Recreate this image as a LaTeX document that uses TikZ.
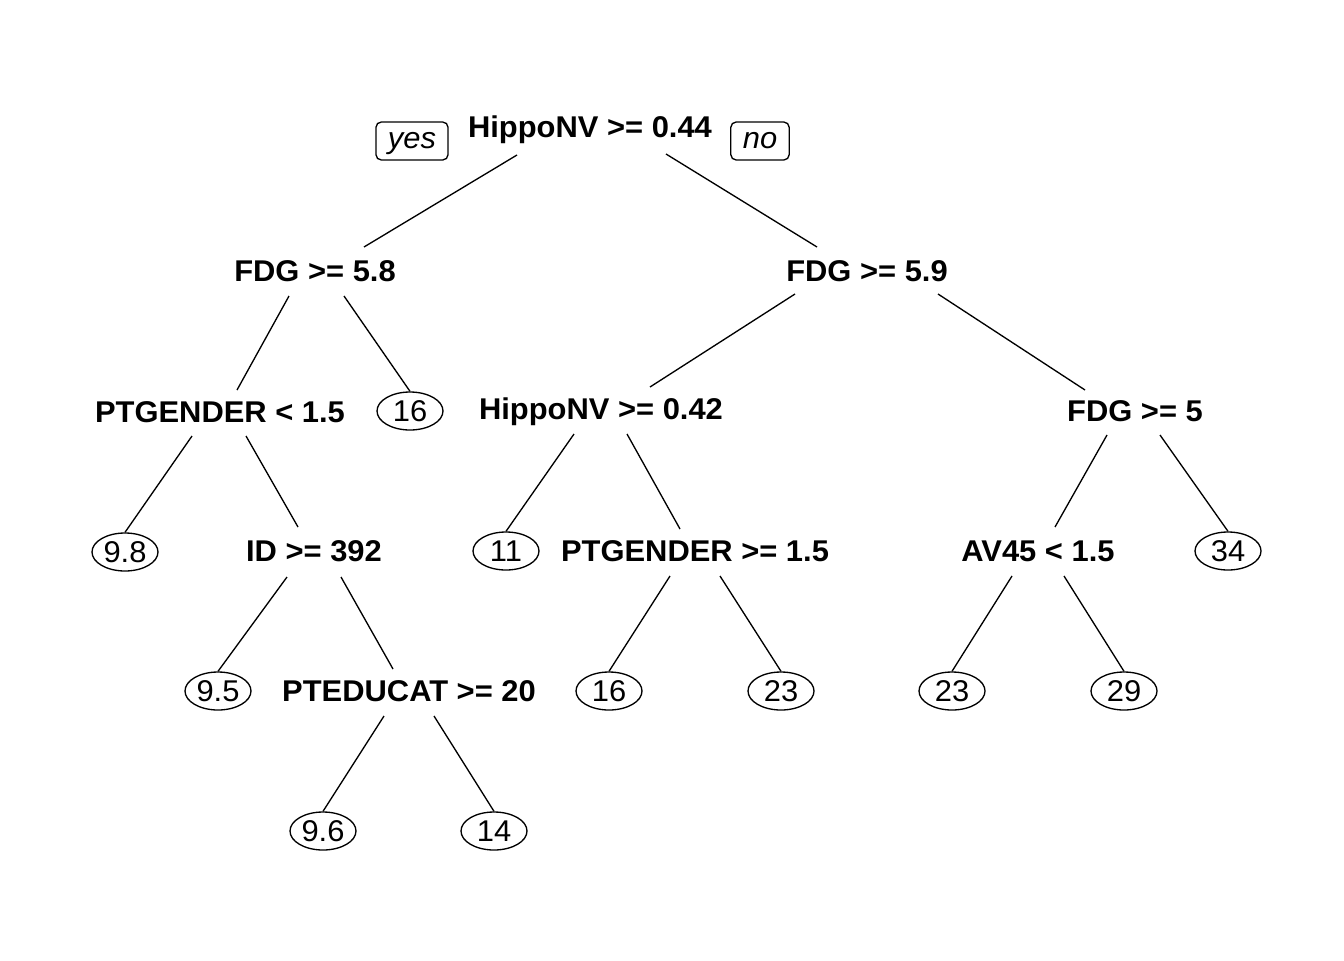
\documentclass[tikz,border=0pt]{standalone}
\usepackage{fontspec}
\setmainfont[FakeStretch=1.03]{Liberation Sans}
\usetikzlibrary{shapes.geometric,calc}
\begin{document}
\begin{tikzpicture}[x=0.75pt,y=-0.75pt,
  every node/.style={font=\fontsize{22.5}{27}\selectfont},
  split/.style={font=\fontsize{22.5}{27}\selectfont\bfseries, inner sep=0pt, text height=15.5pt, text depth=0pt},
  leaf/.style={draw, line width=1pt, ellipse, inner sep=0pt, minimum width=49.5pt, minimum height=28.5pt, text height=15.5pt, text depth=0pt},
  tag/.style={draw, line width=1pt, rounded corners=4pt, font=\fontsize{22.5}{27}\selectfont\itshape, inner xsep=9pt, inner ysep=0pt, minimum height=28.5pt, text height=11pt, text depth=0pt},
  edge/.style={line width=1pt}]
\useasboundingbox (0,0) rectangle (1344,960);
% split nodes
\node[split] (root) at (590,127) {HippoNV >= 0.44};
\node[tag] (yes) at (412,141) {yes};
\node[tag] (no) at (760,141) {no};
\node[split] (fdga) at (315,271) {FDG >= 5.8};
\node[split] (fdgb) at (867,271) {FDG >= 5.9};
\node[split] (ptga) at (220,412) {PTGENDER < 1.5};
\node[split] (hipb) at (601,409) {HippoNV >= 0.42};
\node[split] (fdgc) at (1135,411) {FDG >= 5};
\node[split] (idn) at (314,551) {ID >= 392};
\node[split] (ptgb) at (695,551) {PTGENDER >= 1.5};
\node[split] (av) at (1038,551) {AV45 < 1.5};
\node[split] (pted) at (409,691) {PTEDUCAT >= 20};
% leaves
\node[leaf] (la) at (410,411) {16};
\node[leaf] (lb) at (125,552) {9.8};
\node[leaf] (lc) at (506,551) {11};
\node[leaf] (ld) at (1228,551) {34};
\node[leaf] (le) at (218,691) {9.5};
\node[leaf] (lf) at (609,691) {16};
\node[leaf] (lg) at (781,691) {23};
\node[leaf] (lh) at (952,691) {23};
\node[leaf] (li) at (1124,691) {29};
\node[leaf] (lj) at (323,831) {9.6};
\node[leaf] (lk) at (494,831) {14};
% edges
\draw[edge] ($(root)+(-73,28)$) -- ($(fdga)+(49,-24)$);
\draw[edge] ($(root)+(76,27)$) -- ($(fdgb)+(-50,-24)$);
\draw[edge] ($(fdga)+(-26,25)$) -- ($(ptga)+(17,-22)$);
\draw[edge] ($(fdga)+(29,25)$) -- (la.north);
\draw[edge] ($(fdgb)+(-72,23)$) -- ($(hipb)+(49,-22)$);
\draw[edge] ($(fdgb)+(71,23)$) -- ($(fdgc)+(-50,-21)$);
\draw[edge] ($(ptga)+(-28,24)$) -- (lb.north);
\draw[edge] ($(ptga)+(26,24)$) -- ($(idn)+(-16,-24)$);
\draw[edge] ($(hipb)+(-27,25)$) -- (lc.north);
\draw[edge] ($(hipb)+(26,25)$) -- ($(ptgb)+(-15,-22)$);
\draw[edge] ($(fdgc)+(-28,24)$) -- ($(av)+(17,-24)$);
\draw[edge] ($(fdgc)+(25,24)$) -- (ld.north);
\draw[edge] ($(idn)+(-27,26)$) -- (le.north);
\draw[edge] ($(idn)+(27,26)$) -- ($(pted)+(-16,-22)$);
\draw[edge] ($(ptgb)+(-25,25)$) -- (lf.north);
\draw[edge] ($(ptgb)+(25,25)$) -- (lg.north);
\draw[edge] ($(av)+(-26,25)$) -- (lh.north);
\draw[edge] ($(av)+(26,25)$) -- (li.north);
\draw[edge] ($(pted)+(-25,25)$) -- (lj.north);
\draw[edge] ($(pted)+(25,25)$) -- (lk.north);
\end{tikzpicture}
\end{document}
